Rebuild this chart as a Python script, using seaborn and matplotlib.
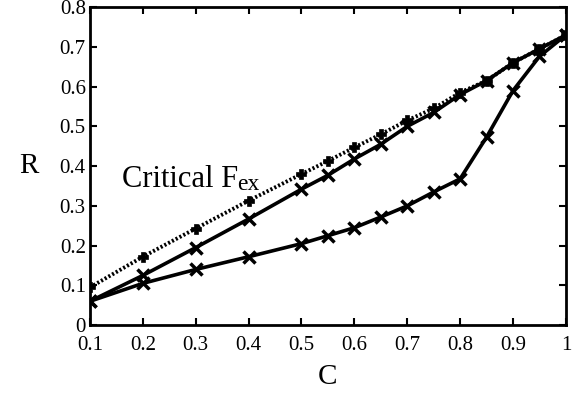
import numpy as np
import pandas as pd
import matplotlib
matplotlib.use("Agg")
import matplotlib.pyplot as plt
import seaborn as sns

# data
C = [0.1, 0.2, 0.3, 0.4, 0.5, 0.55, 0.6, 0.65, 0.7, 0.75, 0.8, 0.85, 0.9, 0.95, 1.0]
critical = [0.095, 0.172, 0.243, 0.313, 0.380, 0.413, 0.447, 0.480, 0.515, 0.545, 0.585, 0.615, 0.660, 0.695, 0.730]
upper = [0.060, 0.125, 0.195, 0.267, 0.342, 0.377, 0.418, 0.455, 0.500, 0.535, 0.580, 0.615, 0.660, 0.695, 0.730]
lower = [0.060, 0.105, 0.140, 0.172, 0.205, 0.225, 0.245, 0.272, 0.300, 0.335, 0.368, 0.473, 0.590, 0.676, 0.730]

xticks = [0.1, 0.2, 0.3, 0.4, 0.5, 0.6, 0.7, 0.8, 0.9, 1.0]
xticklabels = ["0.1", "0.2", "0.3", "0.4", "0.5", "0.6", "0.7", "0.8", "0.9", "1"]
yticks = [0, 0.1, 0.2, 0.3, 0.4, 0.5, 0.6, 0.7, 0.8]
yticklabels = ["0", "0.1", "0.2", "0.3", "0.4", "0.5", "0.6", "0.7", "0.8"]

sns.set_style("ticks")
plt.rcParams["font.family"] = ["Liberation Serif", "DejaVu Serif"]
plt.rcParams["text.color"] = "black"
plt.rcParams["axes.labelcolor"] = "black"

fig = plt.figure(figsize=(5.84, 3.96), dpi=100)
ax = fig.add_axes([0.154, 0.179, 0.815, 0.803])

# dense dotted line for the critical curve
sns.lineplot(x=C, y=critical, ax=ax, color="black", linestyle=(0, (0.55, 0.55)), linewidth=2.8,
             marker="P", markersize=7, markeredgewidth=0.5,
             markeredgecolor="black", markerfacecolor="black")
sns.lineplot(x=C, y=upper, ax=ax, color="black", linewidth=2.6,
             marker="x", markersize=8, markeredgewidth=2.5, markeredgecolor="black")
sns.lineplot(x=C, y=lower, ax=ax, color="black", linewidth=2.6,
             marker="x", markersize=8, markeredgewidth=2.5, markeredgecolor="black")

ax.set_xlim(0.1, 1.0)
ax.set_ylim(0, 0.8)
ax.set_xticks(xticks)
ax.set_xticklabels(xticklabels)
ax.set_yticks(yticks)
ax.set_yticklabels(yticklabels)
ax.tick_params(direction="in", length=5, width=1.5, top=True, right=True,
               labelsize=15, colors="black")
ax.tick_params(axis="x", pad=8)
ax.tick_params(axis="y", pad=3)

for s in ax.spines.values():
    s.set_linewidth(2)
    s.set_color("black")

ax.set_xlabel("C", fontsize=21, labelpad=6)
ax.set_ylabel("R", fontsize=21, rotation=0, labelpad=22, va="center")

ax.text(0.067, 0.434, "Critical F", transform=ax.transAxes, fontsize=22, va="baseline")
ax.text(0.309, 0.426, "ex", transform=ax.transAxes, fontsize=17, va="baseline")

fig.savefig("out.png", dpi=100)
